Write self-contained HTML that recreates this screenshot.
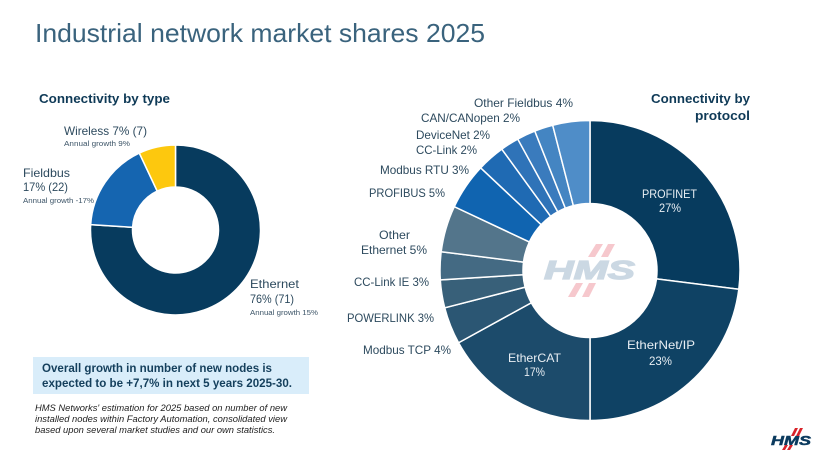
<!DOCTYPE html>
<html lang="en">
<head>
<meta charset="utf-8">
<title>Industrial network market shares 2025</title>
<style>
html,body{margin:0;padding:0;background:#fff;width:825px;height:450px;overflow:hidden}
svg{display:block;font-family:"Liberation Sans",sans-serif}
.lab{font-size:12px;fill:#2d4a5e}
.in{font-size:12px;fill:#e8eef3}
.small{font-size:7px;fill:#3d5568}
.head{font-size:13px;font-weight:bold;fill:#0f3a57}
.note{font-size:9px;font-style:italic;fill:#222}
.box{font-size:11.5px;font-weight:bold;fill:#143f5c}
</style>
</head>
<body>
<svg id="chart" width="825" height="450" viewBox="0 0 825 450" xmlns="http://www.w3.org/2000/svg">
  <rect width="825" height="450" fill="#ffffff"/>
  <text x="35" y="42" font-size="26" fill="#3a637d" textLength="450" lengthAdjust="spacingAndGlyphs">Industrial network market shares 2025</text>

  <text class="head" x="39" y="103" textLength="131" lengthAdjust="spacingAndGlyphs">Connectivity by type</text>
  <text class="head" x="651" y="103" textLength="99" lengthAdjust="spacingAndGlyphs">Connectivity by</text>
  <text class="head" x="695" y="120" textLength="55" lengthAdjust="spacingAndGlyphs">protocol</text>

  <g id="type-slices"></g>
  <g id="protocol-slices"></g>

  <g>
    <polygon points="588,257 595,257 603,244 596,244" fill="#f6c8cd"/>
    <polygon points="601,257 608,257 615,244 608,244" fill="#f6c8cd"/>
    <polygon points="568,297 575,297 583,283 576,283" fill="#f6c8cd"/>
    <polygon points="582,297 589,297 596,283 589,283" fill="#f6c8cd"/>
    <text x="544" y="279" font-size="26" font-weight="bold" font-style="italic" fill="#cbd8e3" stroke="#cbd8e3" stroke-width="1.2" textLength="91" lengthAdjust="spacingAndGlyphs">HMS</text>
  </g>

  <g>
    <text class="lab" x="64" y="135" textLength="83" lengthAdjust="spacingAndGlyphs">Wireless 7% (7)</text>
    <text class="small" x="64" y="146" textLength="66" lengthAdjust="spacingAndGlyphs">Annual growth 9%</text>
    <text class="lab" x="23" y="177" textLength="47" lengthAdjust="spacingAndGlyphs">Fieldbus</text>
    <text class="lab" x="23" y="191" textLength="45" lengthAdjust="spacingAndGlyphs">17% (22)</text>
    <text class="small" x="23" y="203" textLength="71" lengthAdjust="spacingAndGlyphs">Annual growth -17%</text>
    <text class="lab" x="250" y="288" textLength="49" lengthAdjust="spacingAndGlyphs">Ethernet</text>
    <text class="lab" x="250" y="303" textLength="44" lengthAdjust="spacingAndGlyphs">76% (71)</text>
    <text class="small" x="250" y="315" textLength="68" lengthAdjust="spacingAndGlyphs">Annual growth 15%</text>
  </g>

  <g>
    <text class="lab" x="474" y="107" textLength="99" lengthAdjust="spacingAndGlyphs">Other Fieldbus 4%</text>
    <text class="lab" x="421" y="122" textLength="99" lengthAdjust="spacingAndGlyphs">CAN/CANopen 2%</text>
    <text class="lab" x="416" y="139" textLength="74" lengthAdjust="spacingAndGlyphs">DeviceNet 2%</text>
    <text class="lab" x="416" y="154" textLength="61" lengthAdjust="spacingAndGlyphs">CC-Link 2%</text>
    <text class="lab" x="380" y="174" textLength="89" lengthAdjust="spacingAndGlyphs">Modbus RTU 3%</text>
    <text class="lab" x="369" y="197" textLength="76" lengthAdjust="spacingAndGlyphs">PROFIBUS 5%</text>
    <text class="lab" x="379" y="239" textLength="31" lengthAdjust="spacingAndGlyphs">Other</text>
    <text class="lab" x="361" y="254" textLength="66" lengthAdjust="spacingAndGlyphs">Ethernet 5%</text>
    <text class="lab" x="354" y="286" textLength="75" lengthAdjust="spacingAndGlyphs">CC-Link IE 3%</text>
    <text class="lab" x="347" y="322" textLength="87" lengthAdjust="spacingAndGlyphs">POWERLINK 3%</text>
    <text class="lab" x="363" y="354" textLength="88" lengthAdjust="spacingAndGlyphs">Modbus TCP 4%</text>
    <text class="in" x="508" y="362" textLength="53" lengthAdjust="spacingAndGlyphs">EtherCAT</text>
    <text class="in" x="524" y="376" textLength="21" lengthAdjust="spacingAndGlyphs">17%</text>
    <text class="in" x="642" y="198" textLength="55" lengthAdjust="spacingAndGlyphs">PROFINET</text>
    <text class="in" x="659" y="212" textLength="22" lengthAdjust="spacingAndGlyphs">27%</text>
    <text class="in" x="627" y="349" textLength="68" lengthAdjust="spacingAndGlyphs">EtherNet/IP</text>
    <text class="in" x="649" y="365" textLength="23" lengthAdjust="spacingAndGlyphs">23%</text>
  </g>

  <g>
    <rect x="33" y="357" width="276" height="37" fill="#d9edfa"/>
    <text class="box" x="42" y="372" textLength="230" lengthAdjust="spacingAndGlyphs">Overall growth in number of new nodes is</text>
    <text class="box" x="42" y="387" textLength="250" lengthAdjust="spacingAndGlyphs">expected to be +7,7% in next 5 years 2025-30.</text>
  </g>

  <g>
    <text class="note" x="35" y="411" textLength="252" lengthAdjust="spacingAndGlyphs">HMS Networks' estimation for 2025 based on number of new</text>
    <text class="note" x="35" y="422" textLength="252" lengthAdjust="spacingAndGlyphs">installed nodes within Factory Automation, consolidated view</text>
    <text class="note" x="35" y="433" textLength="240" lengthAdjust="spacingAndGlyphs">based upon several market studies and our own statistics.</text>
  </g>

  <g>
    <text x="771" y="445" font-size="13" font-weight="bold" font-style="italic" fill="#0b3a5e" stroke="#0b3a5e" stroke-width="0.5" textLength="40" lengthAdjust="spacingAndGlyphs">HMS</text>
    <polygon points="791,436 794,436 798,428 795,428" fill="#d8232a"/>
    <polygon points="796,436 799,436 803,428 800,428" fill="#d8232a"/>
    <polygon points="782,450 785,450 788,445 785,445" fill="#d8232a"/>
    <polygon points="787,450 790,450 793,445 790,445" fill="#d8232a"/>
  </g>
</svg>
<script>
const typeCategories = ['Ethernet', 'Fieldbus', 'Wireless'];
const typeShares = [76, 17, 7];
const protocolCategories = ['PROFINET', 'EtherNet/IP', 'EtherCAT', 'Modbus TCP', 'POWERLINK', 'CC-Link IE', 'Other Ethernet', 'PROFIBUS', 'Modbus RTU', 'CC-Link', 'DeviceNet', 'CAN/CANopen', 'Other Fieldbus'];
const protocolShares = [27, 23, 17, 4, 3, 3, 5, 5, 3, 2, 2, 2, 4];
const typeColors = ['#073b5e', '#1565b0', '#fdc80e'];
const protocolColors = ['#073b5e', '#0f4264', '#1c4b6b', '#2b5673', '#386079', '#446a83', '#53758b', '#1064b0', '#1f6ab3', '#2f73b8', '#3a7bbd', '#4485c2', '#4f8dc8'];

function angleScale(shares) {
  const total = shares.reduce(function (a, b) { return a + b; }, 0);
  return function (cum) { return cum / total * 2 * Math.PI; };
}
function point(cx, cy, r, a) {
  return [cx + r * Math.sin(a), cy - r * Math.cos(a)];
}
function arcPath(cx, cy, r0, r1, a0, a1) {
  const large = a1 - a0 > Math.PI ? 1 : 0;
  const p1 = point(cx, cy, r1, a0), p2 = point(cx, cy, r1, a1);
  const p3 = point(cx, cy, r0, a1), p4 = point(cx, cy, r0, a0);
  return 'M' + p1[0] + ' ' + p1[1] + 'A' + r1 + ' ' + r1 + ' 0 ' + large + ' 1 ' + p2[0] + ' ' + p2[1] +
    'L' + p3[0] + ' ' + p3[1] + 'A' + r0 + ' ' + r0 + ' 0 ' + large + ' 0 ' + p4[0] + ' ' + p4[1] + 'Z';
}
function drawDonut(groupId, categories, shares, colors, cx, cy, r0, r1) {
  const group = document.getElementById(groupId);
  const angle = angleScale(shares);
  let cum = 0;
  shares.forEach(function (v, i) {
    const path = document.createElementNS('http://www.w3.org/2000/svg', 'path');
    path.setAttribute('d', arcPath(cx, cy, r0, r1, angle(cum), angle(cum + v)));
    path.setAttribute('fill', colors[i]);
    path.setAttribute('stroke', '#ffffff');
    path.setAttribute('stroke-width', '1.5');
    
    
    group.appendChild(path);
    cum += v;
  });
}
drawDonut('type-slices', typeCategories, typeShares, typeColors, 175.5, 230, 43, 85);
drawDonut('protocol-slices', protocolCategories, protocolShares, protocolColors, 590, 270.5, 67, 150);
</script>
</body>
</html>
